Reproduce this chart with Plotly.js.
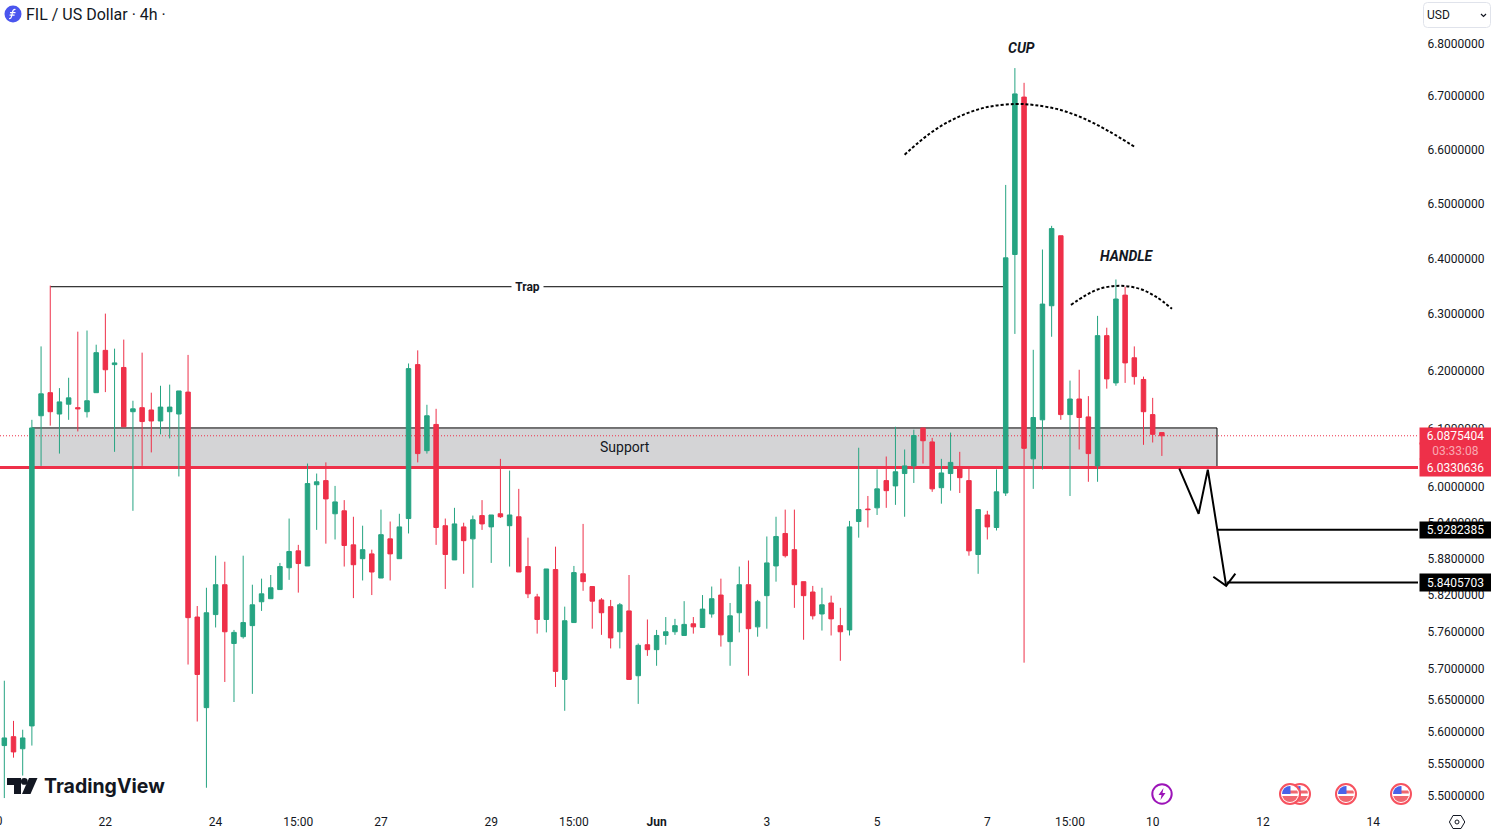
<!DOCTYPE html>
<html>
<head>
<meta charset="utf-8">
<title>FIL / US Dollar</title>
<script src="https://cdn.plot.ly/plotly-3.0.1.min.js"></script>
<style>
  html, body { margin: 0; padding: 0; background: #fff; overflow: hidden; }
  #graph { width: 1491px; height: 832px; }
</style>
</head>
<body>
<div id="graph"></div>
<script>
// 4h candles
const openPrice = [5.578,5.592,5.573,5.609,6.122,6.162,6.125,6.142,6.136,6.129,6.162,6.236,6.211,6.206,6.129,6.136,6.132,6.113,6.129,6.125,6.163,5.784,5.638,5.788,5.837,5.741,5.752,5.770,5.809,5.814,5.829,5.865,5.893,5.868,6.004,6.011,5.955,5.960,5.903,5.880,5.888,5.848,5.913,5.880,5.947,6.211,6.062,6.107,5.935,5.878,5.933,5.913,5.952,5.933,5.955,5.935,5.950,5.867,5.817,5.780,5.862,5.683,5.775,5.855,5.834,5.812,5.801,5.760,5.794,5.689,5.739,5.731,5.754,5.760,5.754,5.773,5.767,5.789,5.820,5.744,5.791,5.837,5.768,5.819,5.868,5.922,5.895,5.842,5.825,5.789,5.807,5.770,5.763,5.942,5.963,5.965,6.011,6.002,6.023,6.036,6.101,6.077,5.999,6.023,6.035,6.011,5.887,5.953,5.932,5.990,6.407,6.698,6.048,6.115,6.315,6.441,6.124,6.151,6.120,6.036,6.262,6.179,6.334,6.223,6.185,6.124,6.093];
const highPrice = [5.681,5.617,5.603,6.115,6.243,6.351,6.170,6.188,6.269,6.271,6.246,6.301,6.239,6.255,6.148,6.232,6.162,6.174,6.176,6.165,6.228,5.802,5.832,5.885,5.875,5.763,5.885,5.837,5.847,5.853,5.873,5.947,5.903,6.040,6.023,6.042,6.002,5.978,5.950,5.935,5.895,5.962,5.942,5.955,6.213,6.236,6.141,6.134,5.947,5.965,5.940,5.952,5.978,5.953,6.048,6.028,5.997,5.915,5.822,5.863,5.900,5.801,5.868,5.938,5.834,5.815,5.812,5.807,5.853,5.741,5.780,5.763,5.784,5.781,5.810,5.784,5.820,5.834,5.847,5.807,5.867,5.877,5.812,5.917,5.950,5.962,5.962,5.842,5.835,5.832,5.819,5.799,5.943,6.067,5.985,6.030,6.052,6.103,6.064,6.098,6.101,6.084,6.048,6.093,6.060,6.033,5.962,5.960,6.030,6.534,6.753,6.725,6.237,6.416,6.459,6.441,6.183,6.202,6.156,6.297,6.276,6.362,6.349,6.243,6.190,6.153,6.093];
const lowPrice = [5.496,5.559,5.531,5.578,6.036,6.105,6.057,6.115,6.095,6.119,6.162,6.163,6.060,6.103,5.960,6.036,6.059,6.090,6.083,6.018,5.707,5.616,5.512,5.767,5.679,5.647,5.749,5.660,5.794,5.814,5.829,5.845,5.824,5.868,5.928,5.905,5.912,5.867,5.815,5.844,5.820,5.848,5.844,5.880,5.922,6.042,6.057,5.903,5.830,5.878,5.855,5.832,5.928,5.873,5.948,5.867,5.858,5.815,5.757,5.759,5.671,5.633,5.775,5.827,5.765,5.755,5.733,5.733,5.683,5.644,5.721,5.705,5.739,5.755,5.754,5.757,5.767,5.783,5.736,5.705,5.759,5.689,5.752,5.765,5.842,5.882,5.799,5.747,5.780,5.762,5.754,5.713,5.754,5.915,5.932,5.953,5.965,5.970,5.950,6.007,6.040,5.992,5.972,5.994,5.990,5.885,5.855,5.912,5.927,5.985,6.265,5.710,5.997,6.030,6.260,6.115,5.985,6.064,6.009,6.009,6.169,6.174,6.179,6.176,6.072,6.076,6.053];
const closePrice = [5.590,5.568,5.590,6.101,6.160,6.129,6.146,6.153,6.134,6.148,6.232,6.202,6.214,6.103,6.134,6.112,6.113,6.137,6.137,6.165,5.783,5.691,5.791,5.837,5.760,5.759,5.775,5.804,5.822,5.832,5.867,5.892,5.872,6.006,6.009,5.980,5.975,5.902,5.870,5.895,5.858,5.920,5.888,5.933,6.204,6.057,6.122,5.932,5.887,5.938,5.910,5.945,5.938,5.953,5.950,5.953,5.858,5.822,5.780,5.863,5.696,5.778,5.857,5.842,5.810,5.791,5.750,5.804,5.683,5.738,5.731,5.754,5.760,5.770,5.772,5.768,5.797,5.814,5.755,5.786,5.837,5.765,5.809,5.873,5.917,5.885,5.837,5.819,5.786,5.804,5.781,5.760,5.933,5.962,5.962,5.997,5.994,6.026,6.036,6.088,6.079,5.997,6.024,6.042,6.016,5.893,5.962,5.933,5.992,6.401,6.704,6.066,6.119,6.318,6.454,6.124,6.151,6.119,6.057,6.262,6.186,6.327,6.214,6.190,6.129,6.090,6.0875];
const candleIndex = openPrice.map((_, i) => i);

// axes
const dateTickIndex = [11, 23, 32, 41, 53, 62, 71, 83, 95, 107, 116, 125, 137, 149];
const dateTickText = ['22', '24', '15:00', '27', '29', '15:00', '<b>Jun</b>', '3', '5', '7', '15:00', '10', '12', '14'];
const priceTicks = [5.5, 5.55, 5.6, 5.65, 5.7, 5.76, 5.82, 5.88, 5.94, 6.0, 6.1, 6.2, 6.3, 6.4, 6.5, 6.6, 6.7, 6.8];
const xLeft = -0.47, xRight = 153.88;

// levels on the price scale
const lastPrice = 6.0875404;
const supportLow = 6.0330636;
const supportHigh = 6.101;
const target1 = 5.9282385;
const target2 = 5.8405703;
const trapPrice = 6.349;

// hand drawings
const cupX = [98.0, 100.7, 103.4, 106.7, 110.0, 112.1, 114.9, 117.6, 120.3, 123.0];
const cupY = [6.590, 6.629, 6.657, 6.678, 6.685, 6.683, 6.674, 6.657, 6.633, 6.605];
const handleX = [116.1, 117.6, 119.2, 121.4, 123.6, 125.4, 127.1];
const handleY = [6.3165, 6.3325, 6.3452, 6.3506, 6.3452, 6.3307, 6.3095];
const pathX = [127.9, 130.0, 131.0, 133.0];
const pathY = [6.0313, 5.9550, 6.0296, 5.8352];
const arrowX = [131.6, 133.0, 134.0];
const arrowY = [5.8502, 5.8352, 5.8552];

const green = '#26a482';
const red = '#ee3049';
const ink = '#131722';
const W = 1491, H = 832, plotW = 1418, plotH = 808;

// small pictures as svg data uris, placed in page pixels
function icon(body, left, top, w, h) {
    const svg = `<svg xmlns="http://www.w3.org/2000/svg" width="${w}" height="${h}" viewBox="0 0 ${w} ${h}">${body}</svg>`;
    return {
        source: 'data:image/svg+xml;charset=utf-8,' + encodeURIComponent(svg),
        xref: 'paper', yref: 'paper', xanchor: 'left', yanchor: 'top',
        x: left / plotW, y: 1 - top / plotH,
        sizex: w / plotW, sizey: h / plotH,
        sizing: 'stretch', layer: 'above'
    };
}

const flag = `<circle cx="12" cy="12" r="10" fill="#fff" stroke="#f7525f" stroke-width="2"/>
<clipPath id="c"><circle cx="12" cy="12" r="8"/></clipPath>
<g clip-path="url(#c)"><rect y="4" width="24" height="16" fill="#fff"/><rect x="12" y="8.5" width="12" height="3" fill="#f0676f"/><rect y="14" width="24" height="6" fill="#f0676f"/><rect x="3" y="3" width="9.5" height="9" fill="#4a62e8"/></g>`;

const images = [
    icon('<circle cx="9" cy="9" r="8.5" fill="#4a55ee"/><path d="M11.5 4.5c-2 -.3-2.6.8-3 2.6l-1 4.6c-.3 1.4-1 2-2.4 1.8M6 7.6h5.5M5.6 10.2h5" fill="none" stroke="#fff" stroke-width="1.2"/>', 4, 5, 18, 18),
    icon(`<path d="M0 0h14v16h-7v-9h-7z" fill="${ink}"/><circle cx="17.3" cy="3.4" r="3.4" fill="${ink}"/><path d="M22 0h8.5l-7 16h-8.5z" fill="${ink}"/>`, 7, 778, 31, 16),
    icon('<circle cx="11" cy="11" r="9.7" fill="#fff" stroke="#9c14b8" stroke-width="2"/><path d="M12.5 5l-5 7h3l-1 5 5-7h-3z" fill="#9c14b8"/>', 1151, 783, 22, 22),
    icon(flag, 1288, 782, 24, 24),
    icon(flag, 1278, 782, 24, 24),
    icon(flag, 1334, 782, 24, 24),
    icon(flag, 1389, 782, 24, 24),
    icon(`<path d="M4 1.5h8l3.8 6.5-3.8 6.5h-8l-3.6-6.5z" fill="none" stroke="${ink}" stroke-width="1"/><circle cx="8" cy="8" r="2" fill="none" stroke="${ink}" stroke-width="1"/>`, 1449, 814, 16, 16),
    // currency box frame and chevron
    icon(`<rect x="0.5" y="0.5" width="67" height="25" rx="4" fill="#fff" stroke="#e0e3eb"/><path d="M58 12l2.5 2.5 2.5-2.5" fill="none" stroke="${ink}" stroke-width="1.2"/>`, 1423, 2, 68, 26)
];

const traces = [
    {
        type: 'candlestick',
        x: candleIndex, open: openPrice, high: highPrice, low: lowPrice, close: closePrice,
        increasing: { line: { color: green, width: 1 }, fillcolor: green },
        decreasing: { line: { color: red, width: 1 }, fillcolor: red },
        whiskerwidth: 0, hoverinfo: 'skip', showlegend: false
    },
    { type: 'scatter', mode: 'lines', x: cupX, y: cupY, line: { color: '#000', width: 2, dash: '3px 2px', shape: 'spline' }, hoverinfo: 'skip' },
    { type: 'scatter', mode: 'lines', x: handleX, y: handleY, line: { color: '#000', width: 2, dash: '3px 2px', shape: 'spline' }, hoverinfo: 'skip' },
    { type: 'scatter', mode: 'lines', x: pathX, y: pathY, line: { color: '#000', width: 2 }, hoverinfo: 'skip' },
    { type: 'scatter', mode: 'lines', x: arrowX, y: arrowY, line: { color: '#000', width: 2 }, hoverinfo: 'skip' }
];

const shapes = [
    // support box
    { type: 'rect', xref: 'x', yref: 'y', x0: 3, x1: 132, y0: supportLow, y1: supportHigh, fillcolor: '#d4d4d6', line: { width: 0 }, layer: 'below' },
    { type: 'line', xref: 'x', yref: 'y', x0: 3, x1: 132, y0: supportHigh, y1: supportHigh, line: { color: '#000', width: 1 }, layer: 'below' },
    { type: 'line', xref: 'x', yref: 'y', x0: 132, x1: 132, y0: supportLow, y1: supportHigh, line: { color: '#000', width: 1 }, layer: 'below' },
    // last price + support level
    { type: 'line', xref: 'x', yref: 'y', x0: xLeft, x1: xRight, y0: lastPrice, y1: lastPrice, line: { color: red, width: 1, dash: '1px 2px' }, layer: 'below' },
    { type: 'line', xref: 'x', yref: 'y', x0: xLeft, x1: xRight, y0: supportLow, y1: supportLow, line: { color: red, width: 3 }, layer: 'below' },
    // trap line
    { type: 'line', xref: 'x', yref: 'y', x0: 5, x1: 109, y0: trapPrice, y1: trapPrice, line: { color: '#000', width: 1 }, layer: 'below' },
    // targets
    { type: 'line', xref: 'x', yref: 'y', x0: 132, x1: xRight, y0: target1, y1: target1, line: { color: '#000', width: 2 } },
    { type: 'line', xref: 'x', yref: 'y', x0: 133.1, x1: xRight, y0: target2, y1: target2, line: { color: '#000', width: 2 } }
];

// right hand price tags, y for annotations on a log axis is log10
function tag(text, price, bg, h) {
    return {
        xref: 'paper', yref: 'y', x: 1, y: Math.log10(price), xanchor: 'left', yanchor: 'middle', xshift: 1,
        text: text, showarrow: false, width: 71, height: h, bgcolor: bg, align: 'center', borderpad: 0,
        font: { family: 'Roboto', size: 12, color: '#fff' }
    };
}

const annotations = [
    { xref: 'x', yref: 'y', x: 57, y: Math.log10(trapPrice), text: '<b>Trap</b>', showarrow: false, bgcolor: '#fff', width: 31, height: 13, borderpad: 0, font: { family: 'Roboto', size: 12, color: ink } },
    { xref: 'x', yref: 'y', x: 67.6, y: Math.log10(6.069), text: 'Support', showarrow: false, font: { family: 'Roboto', size: 14, color: ink } },
    { xref: 'x', yref: 'y', x: 110.7, y: Math.log10(6.791), text: '<b><i>CUP</i></b>', showarrow: false, font: { family: 'Roboto', size: 14, color: ink } },
    { xref: 'x', yref: 'y', x: 122.15, y: Math.log10(6.405), text: '<b><i>HANDLE</i></b>', showarrow: false, font: { family: 'Roboto', size: 14, color: ink } },
    // first date label, cut by the left edge
    { xref: 'paper', yref: 'paper', x: -4.4 / plotW, y: 0, xanchor: 'center', yanchor: 'top', yshift: -4, text: '20', showarrow: false, font: { family: 'Roboto', size: 12, color: ink } },
    tag('6.0875404', lastPrice, red, 16),
    tag('<span style="color:#f9a8b2">03:33:08</span>', 6.0621, red, 16),
    tag('6.0330636', supportLow, red, 17),
    tag('5.9282385', target1, '#000', 16),
    tag('5.8405703', target2, '#000', 17),
    { xref: 'paper', yref: 'paper', x: 1425 / plotW, y: 1 - 15 / plotH, xanchor: 'left', yanchor: 'middle', text: 'USD', showarrow: false, font: { family: 'Roboto', size: 12, color: ink } },
    { xref: 'paper', yref: 'paper', x: 42 / plotW, y: 1 - 786 / plotH, xanchor: 'left', yanchor: 'middle', text: '<b>TradingView</b>', showarrow: false, font: { family: 'Inter', size: 19.5, color: ink } }
];

const layout = {
    width: W, height: H, autosize: false,
    margin: { l: 0, r: W - plotW, t: 0, b: H - plotH, pad: 0 },
    paper_bgcolor: '#fff', plot_bgcolor: '#fff',
    showlegend: false,
    title: {
        text: 'FIL / US Dollar · 4h ·', x: 26 / W, y: 1 - 14 / H, xref: 'container', yref: 'container',
        xanchor: 'left', yanchor: 'middle', font: { family: 'Roboto', size: 16, color: ink }
    },
    boxgap: 0.3,
    xaxis: {
        type: 'linear', range: [xLeft, xRight], rangeslider: { visible: false },
        tickmode: 'array', tickvals: dateTickIndex, ticktext: dateTickText,
        showgrid: false, zeroline: false, showline: false, ticks: 'outside', ticklen: 3, tickcolor: 'rgba(0,0,0,0)',
        tickfont: { family: 'Roboto', size: 12, color: ink }
    },
    yaxis: {
        type: 'log', side: 'right', range: [Math.log10(5.4806), Math.log10(6.884)],
        tickmode: 'array', tickvals: priceTicks, ticktext: priceTicks.map(v => v.toFixed(7)),
        showgrid: false, zeroline: false, showline: false, ticks: 'outside', ticklen: 6, tickcolor: 'rgba(0,0,0,0)',
        tickfont: { family: 'Roboto', size: 12, color: ink }
    },
    shapes: shapes,
    annotations: annotations,
    images: images
};

Plotly.newPlot('graph', traces, layout, { displayModeBar: false, staticPlot: true });
</script>
</body>
</html>
